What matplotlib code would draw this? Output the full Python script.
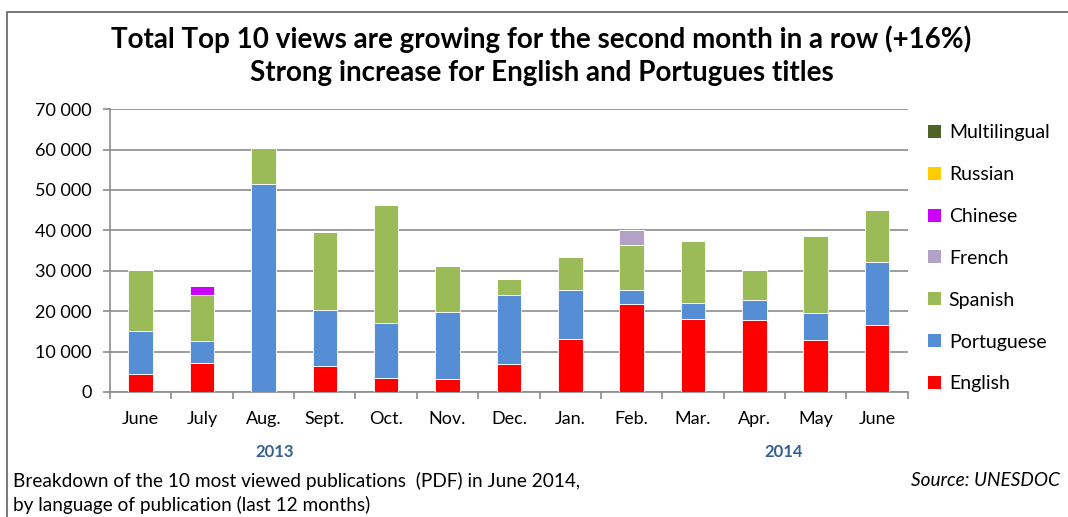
import matplotlib.pyplot as plt
import numpy as np
from matplotlib.patches import Patch, Rectangle
from matplotlib.ticker import FuncFormatter, FixedLocator

plt.rcParams['font.family'] = ['Lato', 'DejaVu Sans']

months = ['June', 'July', 'Aug.', 'Sept.', 'Oct.', 'Nov.', 'Dec.',
          'Jan.', 'Feb.', 'Mar.', 'Apr.', 'May', 'June']

# views per language, stacked bottom to top
english = [4500, 7100, 0, 6400, 3500, 3300, 7000, 13100, 21800, 18100, 17900, 12900, 16500]
portuguese = [10500, 5500, 51400, 14000, 13600, 16600, 17000, 12200, 3400, 4000, 4800, 6700, 15600]
spanish = [15200, 11400, 8900, 19300, 29200, 11300, 4000, 8000, 11200, 15200, 7600, 19000, 13000]
french = [0, 0, 0, 0, 0, 0, 0, 0, 3800, 0, 0, 0, 0]
chinese = [0, 2200, 0, 0, 0, 0, 0, 0, 0, 0, 0, 0, 0]
russian = [0] * 13
multilingual = [0] * 13

series = [('English', english, '#FF0000'),
          ('Portuguese', portuguese, '#558ED5'),
          ('Spanish', spanish, '#9BBB59'),
          ('French', french, '#B3A2C7'),
          ('Chinese', chinese, '#CC00FF'),
          ('Russian', russian, '#FFCC00'),
          ('Multilingual', multilingual, '#4F6228')]

fig = plt.figure(figsize=(10.68, 5.17), dpi=100)
ax = fig.add_axes([0.103, 0.2418, 0.747, 0.5472])

x = np.arange(len(months))
bottom = np.zeros(len(months))
for name, vals, col in series:
    vals = np.array(vals, dtype=float)
    ax.bar(x, vals, 0.4, bottom=bottom, color=col, edgecolor='white', linewidth=0.6, zorder=3)
    bottom += vals

ax.set_xlim(-0.5, len(months) - 0.5)
ax.set_ylim(0, 70000)
ax.set_yticks(np.arange(0, 70001, 10000))
ax.yaxis.set_major_formatter(FuncFormatter(lambda v, p: f"{int(v):,}".replace(",", " ")))
ax.grid(axis='y', color='#8C8C8C', linewidth=1.2, zorder=0)

ax.set_xticks(x)
ax.set_xticklabels(months)
ax.tick_params(axis='x', which='major', length=0, pad=14, labelsize=13)
ax.xaxis.set_minor_locator(FixedLocator(np.arange(-0.5, len(months), 1.0)))
ax.tick_params(axis='x', which='minor', length=5, color='#8C8C8C', width=1.2)
ax.tick_params(axis='y', length=5, color='#8C8C8C', width=1.2, labelsize=13, pad=8)

for s in ['top', 'right']:
    ax.spines[s].set_visible(False)
for s in ['left', 'bottom']:
    ax.spines[s].set_color('#8C8C8C')
    ax.spines[s].set_linewidth(1.2)

handles = [Patch(facecolor=col, label=name) for name, vals, col in series[::-1]]
fig.legend(handles=handles, loc='upper left', bbox_to_anchor=(0.862, 0.775),
           frameon=False, fontsize=14, handlelength=0.65, handleheight=0.65,
           handletextpad=0.4, labelspacing=1.28, borderaxespad=0)

fig.text(0.507, 0.925, 'Total Top 10 views are growing for the second month in a row (+16%)',
         ha='center', va='center', fontsize=20, fontweight='bold')
fig.text(0.507, 0.858, 'Strong increase for English and Portugues titles',
         ha='center', va='center', fontsize=20, fontweight='bold')

fig.text(275 / 1068, 1 - 452 / 517, '2013', ha='center', va='center',
         fontsize=12, fontweight='bold', color='#376092')
fig.text(784 / 1068, 1 - 452 / 517, '2014', ha='center', va='center',
         fontsize=12, fontweight='bold', color='#376092')

fig.text(13 / 1068, 1 - 481 / 517,
         'Breakdown of the 10 most viewed publications  (PDF) in June 2014,',
         ha='left', va='center', fontsize=13.7)
fig.text(13 / 1068, 1 - 505 / 517, 'by language of publication (last 12 months)',
         ha='left', va='center', fontsize=13.7)
fig.text(1060 / 1068, 1 - 480 / 517, 'Source: UNESDOC', ha='right', va='center',
         fontsize=13.7, style='italic')

fig.patches.append(Rectangle((7 / 1068, -0.1), 1.2, 1 - 12 / 517 + 0.1,
                             transform=fig.transFigure, fill=False,
                             edgecolor='#606060', linewidth=1.2))

fig.savefig('out.png', dpi=100)
